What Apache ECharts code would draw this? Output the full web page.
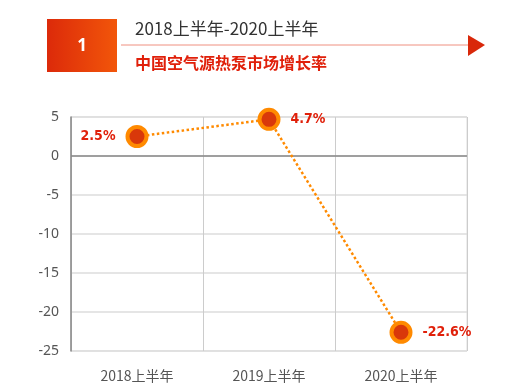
<!DOCTYPE html>
<html><head><meta charset="utf-8">
<script src="https://cdn.jsdelivr.net/npm/echarts@6/dist/echarts.min.js"></script>
<style>html,body{margin:0;padding:0;background:#fff}#c{width:520px;height:390px}</style>
</head><body><div id="c"></div>
<script>
const categories = ['2018上半年', '2019上半年', '2020上半年'];
const growth = [2.5, 4.7, -22.6];
const labelPos = ['left', 'right', 'right'];
const titleText = '2018上半年-2020上半年';
const subtitleText = '中国空气源热泵市场增长率';

const chart = echarts.init(document.getElementById('c'));
chart.setOption({
  animation: false,
  graphic: [
    {type:'rect', shape:{x:47,y:19,width:70,height:53},
     style:{fill:new echarts.graphic.LinearGradient(0,0,1,0,[{offset:0,color:'#dc2a0a'},{offset:1,color:'#f2560a'}])}},
    {type:'text', x:82, y:46, style:{text:'1', fill:'#fff', font:'bold 17px "Noto Sans"', align:'center', verticalAlign:'middle'}},
    {type:'text', x:135, y:29, style:{text:titleText, fill:'#333', font:'17px "Noto Sans CJK SC"', verticalAlign:'middle'}},
    {type:'line', shape:{x1:121,y1:45,x2:470,y2:45}, style:{stroke:'#ef9080', lineWidth:1}},
    {type:'polygon', shape:{points:[[468,35],[485,45],[468,56]]}, style:{fill:'#d9280a'}},
    {type:'text', x:135, y:63, style:{text:subtitleText, fill:'#e0200a', font:'bold 16px "Noto Sans CJK SC"', verticalAlign:'middle'}}
  ],
  grid: {left:71, right:53, top:117, bottom:39, show:true, borderColor:'#ddd', borderWidth:1},
  xAxis: {
    type:'category', data:categories, boundaryGap:true,
    axisLine:{show:false}, axisTick:{show:false},
    splitLine:{show:true, lineStyle:{color:'#ccc'}},
    axisLabel:{color:'#555', fontSize:14, margin:18, fontFamily:'Noto Sans CJK SC'}
  },
  yAxis: {
    type:'value', min:-25, max:5, interval:5,
    axisLine:{show:true, onZero:false, lineStyle:{color:'#888', width:1.5}},
    axisTick:{show:false},
    splitLine:{show:true, lineStyle:{color:'#ddd', width:1.5}},
    axisLabel:{color:'#555', fontSize:14, margin:12, fontFamily:'Noto Sans'}
  },
  series: [
    {
      type:'line',
      data: growth.map((v,i)=>({value:v, label:{position:labelPos[i]}})),
      symbol:'circle', symbolSize:19,
      itemStyle:{color:'#d9380a', borderColor:'#ff8a00', borderWidth:4},
      lineStyle:{color:'#ff8a00', width:2.5, type:[2.5,2.5]},
      label:{show:true, formatter:p=>p.value+'%', color:'#e0200a', fontSize:14, fontWeight:'bold',
        fontFamily:'"DejaVu Sans Condensed", "Liberation Sans Narrow", "Noto Sans"', distance:10},
      markLine:{silent:true, symbol:'none', label:{show:false}, lineStyle:{color:'#888', type:'solid', width:1.5}, data:[{yAxis:0}]},
      z:5
    }
  ]
});
</script></body></html>
